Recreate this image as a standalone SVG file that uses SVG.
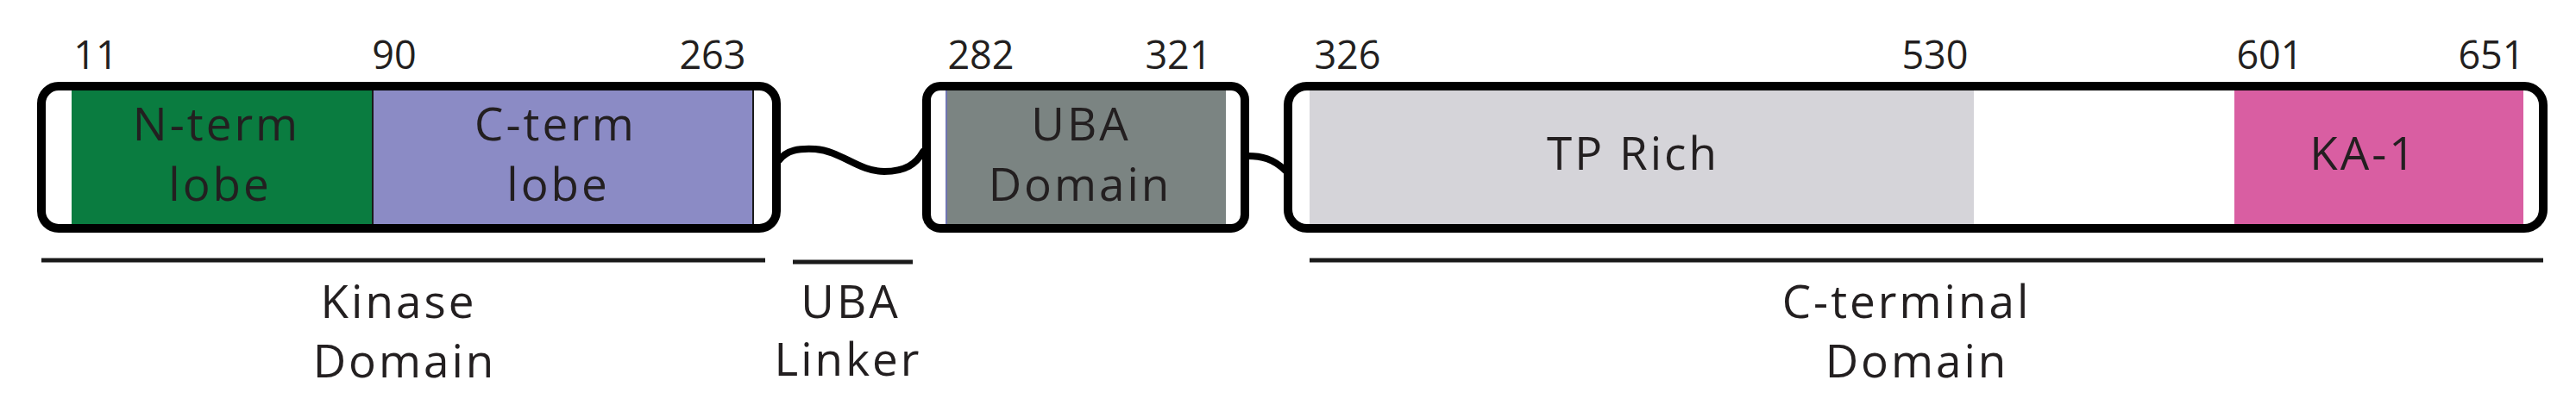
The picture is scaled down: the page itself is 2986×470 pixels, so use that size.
<svg xmlns="http://www.w3.org/2000/svg" width="2986" height="470" viewBox="0 0 2986 470">
<style>
text{font-family:"Open Sans","Noto Sans","Liberation Sans",sans-serif;fill:#231f20;text-anchor:middle}
.num{font-size:45px}
.lbl{font-size:53px;letter-spacing:3px}
.frame{fill:none;stroke:#000;stroke-width:10}
.conn{fill:none;stroke:#000;stroke-width:8;stroke-linecap:round}
.bar{stroke:#1a1a1a;stroke-width:5}
.edge{stroke:#1a1a1a;stroke-width:2}
</style>
<rect width="2986" height="470" fill="#fff"/>
<g id="connectors">
<path class="conn" d="M903,186 C912,174 926,172 945,173 C975,175 995,199 1025,199 C1050,199 1062,190 1070,176"/>
<path class="conn" d="M1446,181 C1462,181 1476,184 1490,198"/>
</g>
<g id="kinase-box">
<rect x="53" y="104" width="30" height="156" fill="#fff"/>
<rect x="83" y="104" width="349" height="156" fill="#0a7c40"/>
<rect x="432" y="104" width="441" height="156" fill="#8b8bc5"/>
<line class="edge" x1="432" y1="104" x2="432" y2="260"/>
<line class="edge" x1="873" y1="104" x2="873" y2="260"/>
<rect class="frame" x="48" y="100" width="852" height="165" rx="20"/>
<text x="251" y="163" class="lbl">N-term</text>
<text x="255" y="233" class="lbl">lobe</text>
<text x="644" y="163" class="lbl">C-term</text>
<text x="647" y="233" class="lbl">lobe</text>
</g>
<g id="uba-box">
<rect x="1096" y="104" width="325" height="156" fill="#7b8482"/>
<line x1="1097" y1="104" x2="1097" y2="260" stroke="#6f74b0" stroke-width="2"/>
<rect class="frame" x="1074" y="100" width="369" height="165" rx="16"/>
<text x="1253" y="163" class="lbl">UBA</text>
<text x="1252" y="233" class="lbl">Domain</text>
</g>
<g id="cterm-box">
<rect x="1518" y="104" width="770" height="156" fill="#d5d4d9"/>
<rect x="2590" y="104" width="335" height="156" fill="#d95ea2"/>
<rect class="frame" x="1493" y="100" width="1455" height="165" rx="22"/>
<text x="1893" y="197" class="lbl">TP Rich</text>
<text x="2740" y="197" class="lbl">KA-1</text>
</g>
<g id="residue-numbers">
<text x="111" y="80" class="num">11</text>
<text x="457" y="80" class="num">90</text>
<text x="826" y="80" class="num">263</text>
<text x="1137" y="80" class="num">282</text>
<text x="1366" y="80" class="num">321</text>
<text x="1562" y="80" class="num">326</text>
<text x="2243" y="80" class="num">530</text>
<text x="2631" y="80" class="num">601</text>
<text x="2888" y="80" class="num">651</text>
</g>
<g id="kinase-domain-label">
<line class="bar" x1="48" y1="302" x2="887" y2="302"/>
<text x="462" y="369" class="lbl">Kinase</text>
<text x="469" y="438" class="lbl">Domain</text>
</g>
<g id="uba-linker-label">
<line class="bar" x1="919" y1="304" x2="1058" y2="304"/>
<text x="986" y="369" class="lbl">UBA</text>
<text x="983" y="436" class="lbl">Linker</text>
</g>
<g id="cterminal-domain-label">
<line class="bar" x1="1518" y1="302" x2="2948" y2="302"/>
<text x="2210" y="369" class="lbl">C-terminal</text>
<text x="2222" y="438" class="lbl">Domain</text>
</g>
</svg>
